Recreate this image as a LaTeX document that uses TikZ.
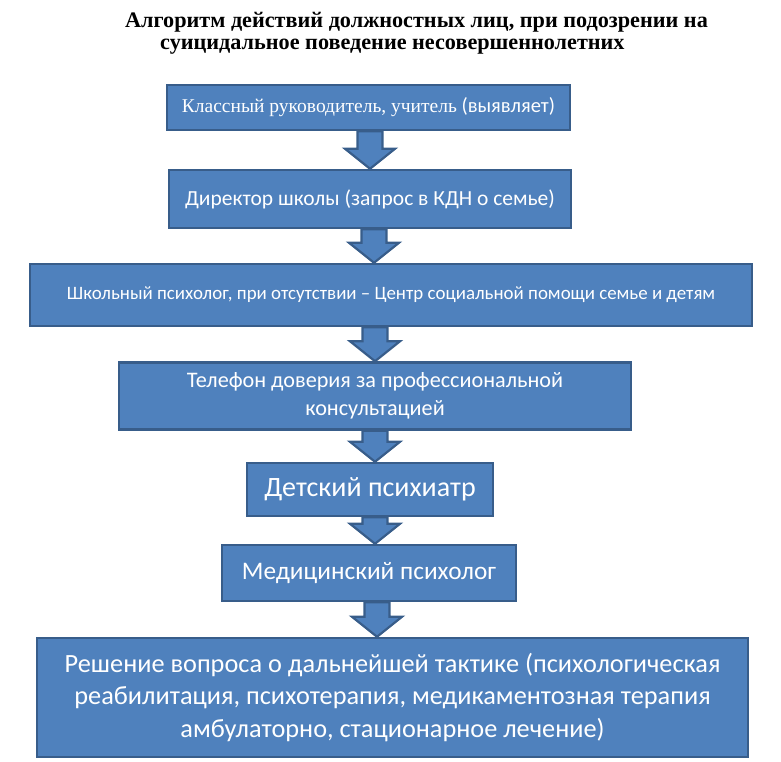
\documentclass[tikz,border=0pt]{standalone}
\usepackage{fontspec}
\setmainfont{Carlito}
\newfontfamily\serifrm{Liberation Serif}
\usetikzlibrary{calc}
\definecolor{boxfill}{HTML}{4F81BD}
\definecolor{boxline}{HTML}{385D8A}
\tikzset{
  stepbox/.style={draw=boxline, fill=boxfill, line width=2.5pt, text=white,
    inner sep=0pt, align=center, font=\fontsize{19}{24}\selectfont},
  flowarr/.style={draw=boxline, fill=boxfill, line width=2.2pt, line join=miter},
  titletext/.style={font=\serifrm\bfseries\fontsize{22.2}{25}\selectfont, anchor=west, inner sep=0pt}
}
\newcommand\flowarrow[3]{%
  \draw[flowarr] let \p1=(#1.south), \p2=(#2.north) in
    ({#3-12.5},\y1) -- ({#3+12.5},\y1) -- ({#3+12.5},{\y2+20pt}) -- ({#3+25},{\y2+20pt})
    -- (#3,\y2) -- ({#3-25},{\y2+20pt}) -- ({#3-12.5},{\y2+20pt}) -- cycle;}
\begin{document}
\begin{tikzpicture}[x=1pt,y=-1pt]
\useasboundingbox (0,0) rectangle (781,761);
\node[titletext] (t1) at (125,22) {Алгоритм действий должностных лиц, при подозрении на};
\node[titletext] (t2) at (160,47) {суицидальное поведение несовершеннолетних};
\node[stepbox, minimum width=403, minimum height=45, font=\fontsize{20.5}{24}\selectfont] (b1) at (368.5,107.5)
  {{\serifrm\fontsize{19.5}{24}\selectfont Классный руководитель, учитель} (выявляет)};
\node[stepbox, minimum width=402, minimum height=58, font=\fontsize{21.5}{24}\selectfont] (b2) at (370,199)
  {Директор школы (запрос в КДН о семье)};
\node[stepbox, minimum width=722, minimum height=62, font=\fontsize{18.9}{24}\selectfont] (b3) at (391,295)
  {Школьный психолог, при отсутствии -- Центр социальной помощи семье и детям};
\node[stepbox, minimum width=512, minimum height=67, font=\fontsize{22.2}{28}\selectfont] (b4) at (375,396)
  {Телефон доверия за профессиональной\\консультацией};
\node[stepbox, minimum width=246, minimum height=53, font=\fontsize{28}{30}\selectfont] (b5) at (370,489.5)
  {Детский психиатр};
\node[stepbox, minimum width=294, minimum height=56, font=\fontsize{25.3}{28}\selectfont] (b6) at (369,573)
  {Медицинский психолог};
\node[stepbox, minimum width=711, minimum height=119, font=\fontsize{26.3}{32.5}\selectfont] (b7) at (392.5,697.5)
  {Решение вопроса о дальнейшей тактике (психологическая\\реабилитация, психотерапия, медикаментозная терапия\\амбулаторно, стационарное лечение)};
\flowarrow{b1}{b2}{370}
\flowarrow{b2}{b3}{374}
\flowarrow{b3}{b4}{375}
\flowarrow{b4}{b5}{375}
\flowarrow{b5}{b6}{375}
\flowarrow{b6}{b7}{377}
\end{tikzpicture}
\end{document}
